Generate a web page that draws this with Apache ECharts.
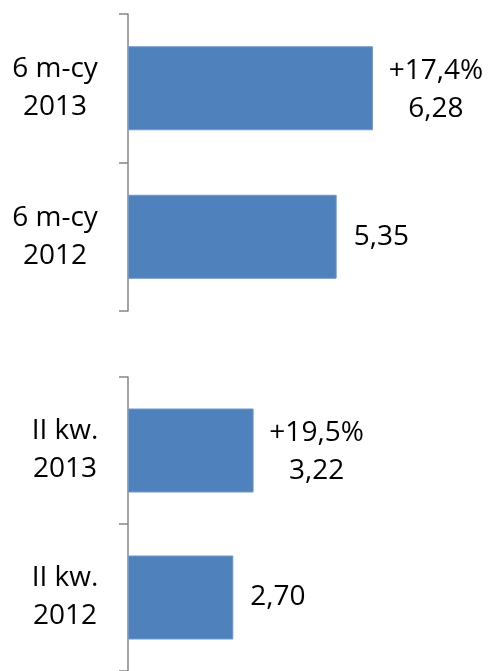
<!DOCTYPE html>
<html>
<head>
<meta charset="utf-8">
<script src="https://cdn.jsdelivr.net/npm/echarts@6/dist/echarts.min.js"></script>
<style>
html, body { margin: 0; padding: 0; background: #fff; }
#main { width: 490px; height: 671px; }
</style>
</head>
<body>
<div id="main"></div>
<script>
// dane
var topCats = ['6 m-cy\n2013', '6 m-cy\n2012'];
var topValues = [6.28, 5.35];
var topChanges = ['+17,4%', ''];

var bottomCats = ['II kw.\n2013', 'II kw.\n2012'];
var bottomValues = [3.22, 2.70];
var bottomChanges = ['+19,5%', ''];

var xMax = 9;

var fmt = function (v) {
    return v.toFixed(2).replace('.', ',');
};

var buildData = function (values, changes) {
    var arr = [];
    for (var i = 0; i < values.length; i++) {
        var item = { value: values[i] };
        if (changes[i]) {
            item.label = {
                formatter: changes[i] + '\n' + fmt(values[i]),
                align: 'center',
                distance: 16,
                offset: [47, 2]
            };
        }
        arr.push(item);
    }
    return arr;
};

var font = '"Open Sans", sans-serif';

var yAxisCfg = function (idx, cats, margin) {
    return {
        type: 'category',
        gridIndex: idx,
        data: cats,
        inverse: true,
        axisLine: { show: true, lineStyle: { color: '#868686', width: 1.5 } },
        axisTick: { show: true, length: 9, lineStyle: { color: '#868686', width: 1.5 } },
        axisLabel: {
            color: '#000',
            fontSize: 28,
            lineHeight: 38,
            fontFamily: font,
            align: 'center',
            margin: margin,
            padding: [4, 0, 0, 0]
        },
        splitLine: { show: false }
    };
};

var xAxisCfg = function (idx) {
    return {
        type: 'value',
        gridIndex: idx,
        min: 0,
        max: xMax,
        show: false
    };
};

var seriesCfg = function (idx, values, changes) {
    return {
        type: 'bar',
        xAxisIndex: idx,
        yAxisIndex: idx,
        barWidth: 84,
        data: buildData(values, changes),
        itemStyle: { color: '#4F81BD', borderColor: '#6f97c9', borderWidth: 1 },
        label: {
            show: true,
            position: 'right',
            distance: 17,
            color: '#000',
            fontSize: 28,
            lineHeight: 38,
            fontFamily: font,
            formatter: function (p) { return fmt(p.value); }
        },
        silent: true,
        animation: false
    };
};

var myChart = echarts.init(document.getElementById('main'));
var option = {
    animation: false,
    grid: [
        { left: 128, top: 14, width: 351, height: 297 },
        { left: 128, top: 377, width: 351, height: 296 }
    ],
    xAxis: [xAxisCfg(0), xAxisCfg(1)],
    yAxis: [yAxisCfg(0, topCats, 73), yAxisCfg(1, bottomCats, 63)],
    series: [
        seriesCfg(0, topValues, topChanges),
        seriesCfg(1, bottomValues, bottomChanges)
    ]
};
myChart.setOption(option);
</script>
</body>
</html>
